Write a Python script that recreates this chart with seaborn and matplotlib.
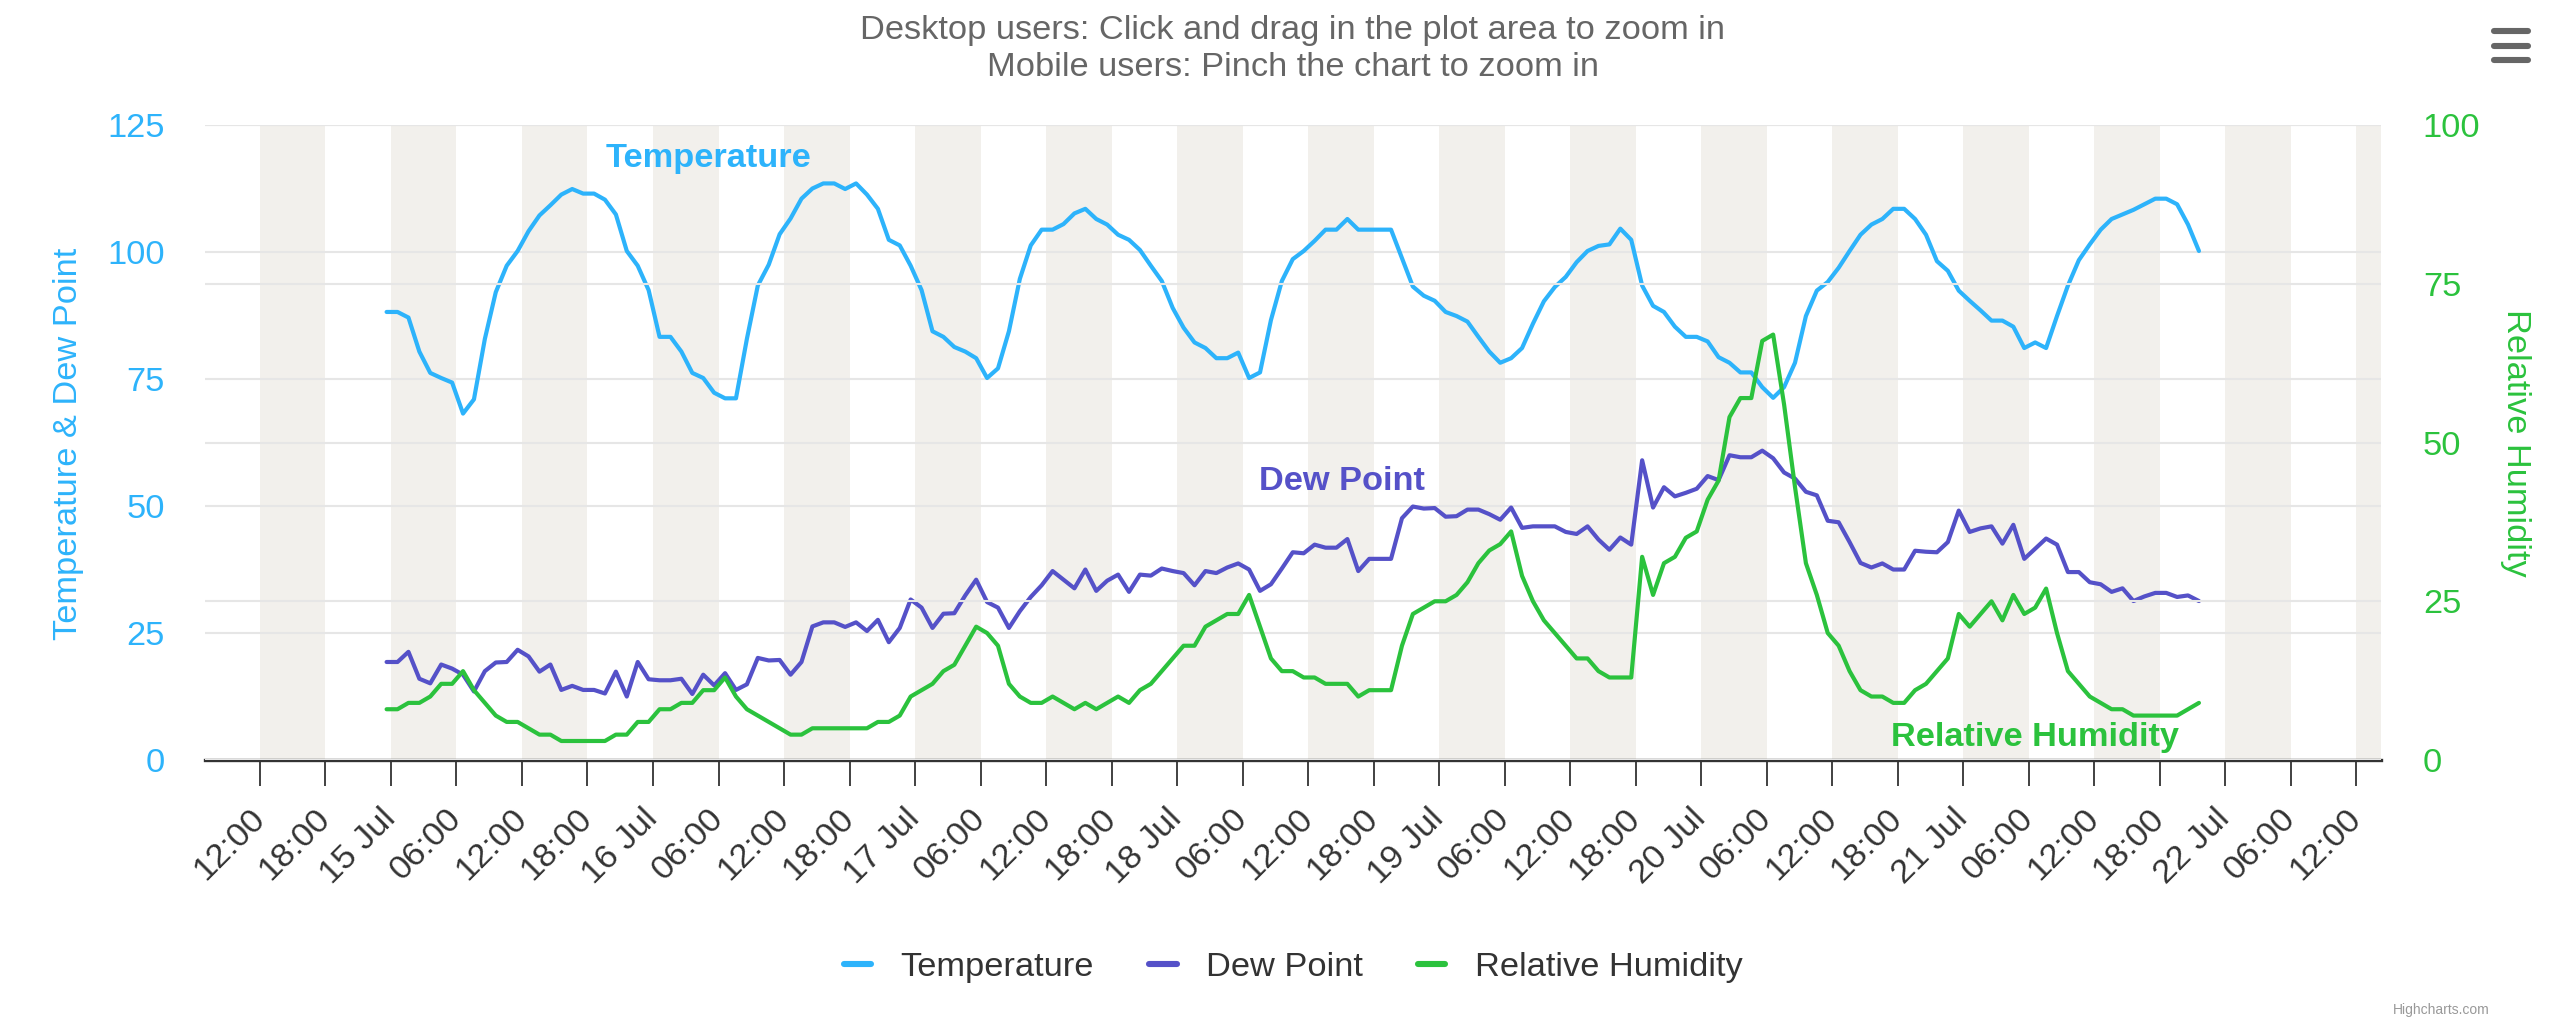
import matplotlib
matplotlib.use("Agg")
import matplotlib.pyplot as plt
import matplotlib.dates as mdates
from matplotlib.lines import Line2D
import pandas as pd
import seaborn as sns

# hourly readings, first one at 14 Jul 23:36
start_time = "2019-07-14 23:36"

temperature = [
    88.2, 88.2, 87.1, 80.4, 76.2, 75.2, 74.3, 68.2, 71.0, 82.9, 92.1, 97.3, 100.2, 104.1, 107.2,
    109.2, 111.3, 112.4, 111.5, 111.5, 110.3, 107.4, 100.2, 97.3, 92.5, 83.3, 83.3, 80.4, 76.2,
    75.2, 72.3, 71.2, 71.2, 82.9, 93.4, 97.5, 103.5, 106.6, 110.5, 112.5, 113.5, 113.5, 112.4,
    113.5, 111.3, 108.5, 102.4, 101.3, 97.3, 92.5, 84.4, 83.3, 81.3, 80.4, 79.1, 75.2,
    77.1, 84.4, 94.7, 101.3, 104.4, 104.4, 105.5, 107.6, 108.5, 106.5, 105.4, 103.4, 102.4, 100.4,
    97.3, 94.3, 89.0, 85.1, 82.2, 81.1, 79.1, 79.1, 80.2, 75.2, 76.3, 86.6, 94.3, 98.6,
    100.2, 102.2, 104.4, 104.4, 106.5, 104.4, 104.4, 104.4, 104.4, 98.8, 93.2, 91.4, 90.4, 88.2,
    87.4, 86.3, 83.3, 80.4, 78.2, 79.1, 81.1, 85.9, 90.3, 93.1, 95.1, 98.0, 100.2,
    101.2, 101.5, 104.6, 102.4, 93.4, 89.4, 88.2, 85.3, 83.3, 83.3, 82.4, 79.3, 78.2, 76.3,
    76.3, 73.4, 71.3, 73.4, 78.2, 87.4, 92.4, 94.1, 96.9, 100.2, 103.4, 105.4, 106.5, 108.5,
    108.5, 106.5, 103.4, 98.2, 96.3, 92.4, 90.4, 88.5, 86.5, 86.5, 85.3, 81.1, 82.2, 81.1,
    87.4, 93.4, 98.4, 101.5, 104.4, 106.5, 107.4, 108.3, 109.4, 110.5, 110.5, 109.4, 105.4, 100.2,
]

dew_point = [
    19.3, 19.3, 21.3, 16.0, 15.1, 18.8, 18.0, 16.8, 13.5, 17.5, 19.2, 19.3, 21.7, 20.4, 17.4,
    18.8, 13.8, 14.6, 13.8, 13.8, 13.1, 17.4, 12.5, 19.3, 15.9, 15.7, 15.7, 16.0, 13.0,
    16.8, 14.7, 17.1, 13.8, 14.9, 20.1, 19.6, 19.7, 16.8, 19.3, 26.3, 27.1, 27.1, 26.2,
    27.1, 25.4, 27.6, 23.2, 26.0, 31.6, 30.0, 26.0, 28.8, 28.9, 32.4, 35.5, 31.1,
    30.0, 26.0, 29.3, 32.1, 34.4, 37.2, 35.5, 33.8, 37.5, 33.3, 35.3, 36.5, 33.1, 36.5,
    36.3, 37.7, 37.2, 36.8, 34.4, 37.2, 36.8, 37.9, 38.7, 37.5, 33.3, 34.6, 37.7, 40.9,
    40.7, 42.4, 41.8, 41.8, 43.5, 37.2, 39.6, 39.6, 39.6, 47.6, 49.9, 49.5, 49.6, 47.9,
    48.0, 49.3, 49.3, 48.4, 47.3, 49.7, 45.7, 46.0, 46.0, 46.0, 44.9, 44.5, 46.0,
    43.4, 41.4, 43.8, 42.4, 59.0, 49.7, 53.7, 51.9, 52.6, 53.4, 55.9, 55.1, 60.0, 59.6,
    59.6, 60.9, 59.4, 56.6, 55.4, 52.8, 52.1, 47.1, 46.8, 42.9, 38.8, 37.9, 38.7, 37.5,
    37.5, 41.2, 41.0, 40.9, 42.9, 49.1, 44.9, 45.6, 46.0, 42.6, 46.3, 39.6, 41.6, 43.6,
    42.4, 37.0, 37.0, 35.0, 34.6, 33.1, 33.8, 31.3, 32.2, 32.9, 32.9, 32.1, 32.4, 31.3,
]

humidity = [
    8, 8, 9, 9, 10, 12, 12, 14, 11, 9, 7, 6, 6, 5, 4, 4, 3, 3, 3, 3, 3, 4, 4, 6, 6, 8, 8, 9, 9,
    11, 11, 13, 10, 8, 7, 6, 5, 4, 4, 5, 5, 5, 5, 5, 5, 6, 6, 7, 10, 11, 12, 14, 15, 18, 21, 20,
    18, 12, 10, 9, 9, 10, 9, 8, 9, 8, 9, 10, 9, 11, 12, 14, 16, 18, 18, 21, 22, 23, 23, 26,
    21, 16, 14, 14,
    13, 13, 12, 12, 12, 10, 11, 11, 11, 18, 23, 24, 25, 25, 26, 28, 31, 33, 34, 36, 29, 25,
    22, 20, 18, 16, 16,
    14, 13, 13, 13, 32, 26, 31, 32, 35, 36, 41, 44, 54, 57, 57, 66, 67, 56, 43, 31, 26, 20,
    18, 14, 11, 10, 10, 9,
    9, 11, 12, 14, 16, 23, 21, 23, 25, 22, 26, 23, 24, 27, 20, 14, 12, 10, 9, 8, 8, 7, 7, 7,
    7, 7, 8, 9,
]

series_names = ["Temperature", "Dew Point", "Relative Humidity"]
colors = ["#2db3fb", "#5551c8", "#2bc23d"]
band_color = "#f2f0ec"
grid_color = "#e6e6e6"
fs = 12.4

df = pd.DataFrame({
    "time": pd.date_range(start_time, periods=len(temperature), freq="h"),
    "temperature": temperature,
    "dew_point": dew_point,
    "humidity": humidity,
})

sns.set_style("white")
plt.rcParams["font.family"] = ["Liberation Sans", "DejaVu Sans"]

fig = plt.figure(figsize=(12.805, 5.09), dpi=200)
ax = fig.add_axes([0.08005, 0.2534, 0.8497, 0.6238])

sns.lineplot(data=df, x="time", y="temperature", ax=ax, color=colors[0], lw=1.5, zorder=3)
sns.lineplot(data=df, x="time", y="dew_point", ax=ax, color=colors[1], lw=1.5, zorder=3)

# alternating 6 hour bands
for s in pd.date_range("2019-07-14 12:00", "2019-07-22 12:00", freq="12h"):
    ax.axvspan(s, s + pd.Timedelta(hours=6), color=band_color, lw=0, zorder=0)

ax.set_xlim(pd.Timestamp("2019-07-14 06:58"), pd.Timestamp("2019-07-22 14:17"))
ax.set_ylim(0, 125)
ax.set_yticks([0, 25, 50, 75, 100, 125])
ax.set_axisbelow(True)
ax.grid(axis="y", color=grid_color, lw=0.75)
ax.grid(axis="x", visible=False)

tick_times = pd.date_range("2019-07-14 12:00", "2019-07-22 12:00", freq="6h")
tick_labels = [t.strftime("%-d Jul") if t.hour == 0 else t.strftime("%H:%M") for t in tick_times]
ax.set_xticks(mdates.date2num(tick_times))
ax.set_xticklabels(tick_labels, rotation=45, ha="right", va="center", rotation_mode="anchor")
ax.tick_params(axis="x", length=9.4, width=0.65, color="#333333", pad=10,
               labelsize=fs, labelcolor="#333333", bottom=True)
ax.tick_params(axis="y", length=0, pad=14.5, labelsize=fs, labelcolor=colors[0])
ax.set_xlabel("")
ax.set_ylabel("")
for side in ["top", "left", "right"]:
    ax.spines[side].set_visible(False)
ax.spines["bottom"].set_color("#333333")
ax.spines["bottom"].set_linewidth(1.2)
ax.spines["bottom"].set_zorder(4)

# humidity on its own axis
ax2 = ax.twinx()
sns.lineplot(data=df, x="time", y="humidity", ax=ax2, color=colors[2], lw=1.5, zorder=3)
ax2.set_ylim(0, 100)
ax2.set_yticks([0, 25, 50, 75, 100])
ax2.set_axisbelow(True)
ax2.grid(axis="y", color=grid_color, lw=0.75)
ax2.tick_params(axis="y", length=0, pad=15, labelsize=fs, labelcolor=colors[2])
ax2.set_ylabel("")
for side in ax2.spines:
    ax2.spines[side].set_visible(False)

# labels on the series
ax.text(0.2316, 0.948, "Temperature", transform=ax.transAxes, ha="center", va="center",
        fontsize=fs, fontweight="bold", color=colors[0])
ax.text(0.5225, 0.438, "Dew Point", transform=ax.transAxes, ha="center", va="center",
        fontsize=fs, fontweight="bold", color=colors[1])
ax.text(0.841, 0.035, "Relative Humidity", transform=ax.transAxes, ha="center", va="center",
        fontsize=fs, fontweight="bold", color=colors[2], zorder=5)

# axis titles
fig.text(69 / 2561, 1 - 444 / 1018, "Temperature & Dew Point", rotation=90,
         ha="center", va="center", fontsize=fs, color=colors[0])
fig.text(2515 / 2561, 1 - 443 / 1018, "Relative Humidity", rotation=270,
         ha="center", va="center", fontsize=fs, color=colors[2])

# subtitle lines
mid = 1293 / 2561
fig.text(mid, 1 - 30 / 1018, "Desktop users: Click and drag in the plot area to zoom in",
         ha="center", va="center", fontsize=fs, color="#666666")
fig.text(mid, 1 - 68 / 1018, "Mobile users: Pinch the chart to zoom in",
         ha="center", va="center", fontsize=fs, color="#666666")

# menu icon
for y in [31, 46, 60]:
    fig.add_artist(Line2D([2494 / 2561, 2528 / 2561], [1 - y / 1018, 1 - y / 1018],
                          transform=fig.transFigure, color="#666666", lw=2.2,
                          solid_capstyle="round"))

handles = [Line2D([0], [0], color=c, lw=2.2, solid_capstyle="round") for c in colors]
fig.legend(handles, series_names, loc="center", bbox_to_anchor=(mid, 0.05), ncol=3,
           frameon=False, fontsize=fs, handlelength=0.8, handletextpad=0.85,
           columnspacing=1.6, labelcolor="#333333")

fig.text(2490 / 2561, 0.001, "Highcharts.com", ha="right", va="bottom",
         fontsize=5, color="#999999")

fig.savefig("out.png", dpi=200)
